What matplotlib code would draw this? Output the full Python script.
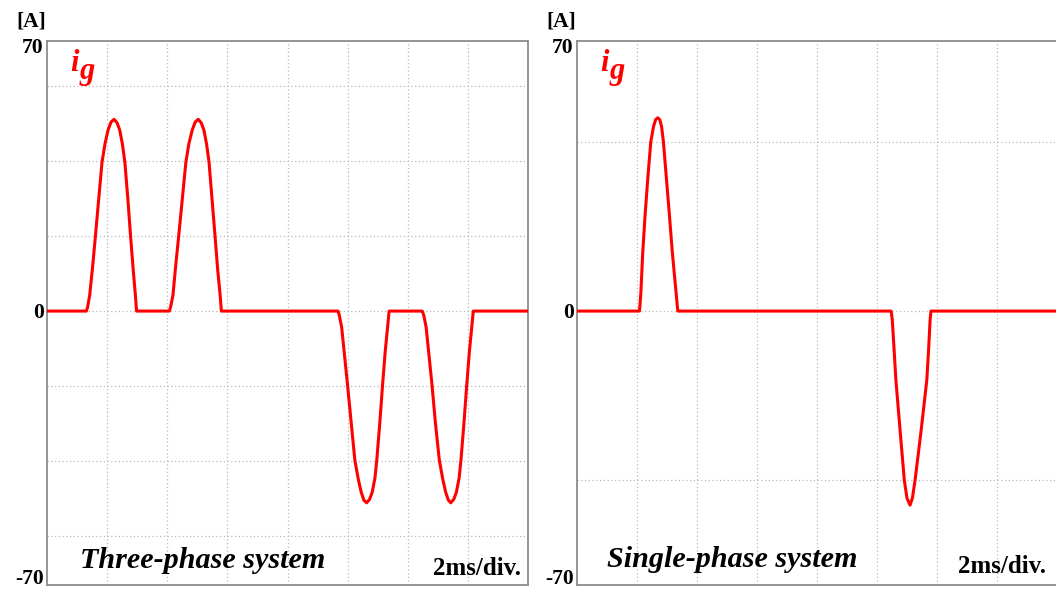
import numpy as np
import matplotlib
matplotlib.use("Agg")
import matplotlib.pyplot as plt

# ---- data (time in ms, current in A) ----
t_three = [0.0,
           1.31, 1.35, 1.42, 1.52, 1.61, 1.72, 1.83, 1.93, 2.03, 2.13, 2.23,
           2.33, 2.42, 2.51, 2.59, 2.69, 2.78, 2.87, 2.94, 2.98,
           4.07, 4.11, 4.19, 4.28, 4.38, 4.50, 4.62, 4.72, 4.83, 4.93, 5.03,
           5.13, 5.22, 5.31, 5.39, 5.49, 5.59, 5.68, 5.76, 5.80,
           9.68, 9.72, 9.80, 9.90, 10.00, 10.12, 10.24, 10.35, 10.45, 10.54, 10.63,
           10.73, 10.82, 10.91, 10.97, 11.07, 11.16, 11.25, 11.33, 11.38,
           12.48, 12.53, 12.61, 12.71, 12.81, 12.92, 13.05, 13.16, 13.26, 13.35, 13.43,
           13.53, 13.62, 13.71, 13.77, 13.87, 13.96, 14.05, 14.13, 14.18,
           16.0]
i_three = [0.0,
           0.0, 1.0, 4.1, 11.7, 19.4, 29.0, 38.6, 43.4, 46.9, 49.0, 49.7,
           48.8, 46.9, 43.2, 38.6, 29.0, 19.4, 10.5, 4.1, 0.0,
           0.0, 1.0, 4.1, 11.7, 19.4, 29.0, 38.6, 43.4, 46.9, 49.0, 49.7,
           48.8, 46.9, 43.2, 38.6, 29.0, 19.4, 10.5, 4.1, 0.0,
           0.0, -1.0, -4.1, -11.7, -19.4, -29.0, -38.6, -43.4, -46.9, -49.0, -49.7,
           -48.8, -46.9, -43.2, -38.6, -29.0, -19.4, -10.5, -4.1, 0.0,
           0.0, -1.0, -4.1, -11.7, -19.4, -29.0, -38.6, -43.4, -46.9, -49.0, -49.7,
           -48.8, -46.9, -43.2, -38.6, -29.0, -19.4, -10.5, -4.1, 0.0,
           0.0]

t_single = [0.0,
            2.08, 2.10, 2.13, 2.19, 2.27, 2.36, 2.46, 2.55, 2.62, 2.69,
            2.76, 2.82, 2.88, 2.98, 3.08, 3.18, 3.30, 3.36,
            10.47, 10.51, 10.57, 10.63, 10.77, 10.91, 11.00, 11.10,
            11.18, 11.27, 11.47, 11.66, 11.72, 11.77, 11.80,
            16.0]
i_single = [0.0,
            0.0, 1.5, 5.0, 15.0, 24.9, 34.4, 43.9, 47.8, 49.6, 50.1,
            49.6, 47.8, 43.9, 34.4, 24.9, 15.0, 5.0, 0.0,
            0.0, -2.3, -10.0, -17.9, -31.0, -43.8, -48.5, -50.3,
            -48.5, -43.8, -31.0, -17.9, -10.0, -2.3, 0.0,
            0.0]

ytick_vals = [70, 0, -70]
ytick_labels = ["70", "0", "-70"]
xgrid = [2, 4, 6, 8, 10, 12, 14]
ygrid_three = [-58.3, -38.9, -19.4, 0, 19.4, 38.9, 58.3]
ygrid_single = [-43.8, 0, 43.8]
titles = ["Three-phase system", "Single-phase system"]

SERIF = "Liberation Serif"
RED = "#ff0000"
label_shift = [-4.8, -1.5, 1.5]   # points, nudges the scale numbers like the scope print

fig = plt.figure(figsize=(10.56, 5.91), dpi=100)
ax1 = fig.add_axes([47 / 1056, 6 / 591, 481 / 1056, 544 / 591])
ax2 = fig.add_axes([577 / 1056, 6 / 591, 480 / 1056, 544 / 591])


def setup_panel(ax, ygrid, title, name_x, unit_x, unit_y, title_y):
    ax.set_xlim(0, 16)
    ax.set_ylim(-71, 70)
    for x in xgrid:
        ax.axvline(x, color="#b8b8b8", lw=0.9, ls=(0, (1, 2)), zorder=0)
    for y in ygrid:
        ax.axhline(y, color="#b8b8b8", lw=0.9, ls=(0, (1, 2)), zorder=0)
    for s in ax.spines.values():
        s.set_color("#8c8c8c")
        s.set_linewidth(1.3)
    ax.set_xticks([])
    ax.set_yticks([])

    for val, lab, dy in zip(ytick_vals, ytick_labels, label_shift):
        ax.annotate(lab, xy=(0, val), xycoords=("axes fraction", "data"),
                    xytext=(-2.5, dy), textcoords="offset points",
                    ha="right", va="center", family=SERIF, fontweight="bold",
                    fontsize=15.5)

    ax.text(-0.002, 1.027, "[A]", transform=ax.transAxes, ha="right", va="baseline",
            family=SERIF, fontweight="bold", fontsize=15.5)
    ax.text(0.048, 0.945, "i", transform=ax.transAxes, ha="left", va="baseline",
            family=SERIF, fontweight="bold", style="italic", fontsize=22, color=RED)
    ax.text(0.068, 0.930, "g", transform=ax.transAxes, ha="left", va="baseline",
            family=SERIF, fontweight="bold", style="italic", fontsize=22, color=RED)
    ax.text(name_x, title_y, title, transform=ax.transAxes, ha="left", va="baseline",
            family=SERIF, fontweight="bold", style="italic", fontsize=21.7)
    ax.text(unit_x, unit_y, "2ms/div.", transform=ax.transAxes, ha="right", va="baseline",
            family=SERIF, fontweight="bold", fontsize=18)


setup_panel(ax1, ygrid_three, titles[0], 0.069, 0.985, 0.018, 0.031)
setup_panel(ax2, ygrid_single, titles[1], 0.0625, 0.977, 0.022, 0.033)

ax1.plot(t_three, i_three, color=RED, lw=2.2, solid_joinstyle="round", zorder=3)
ax2.plot(t_single, i_single, color=RED, lw=2.2, solid_joinstyle="round", zorder=3)

fig.savefig("out.png", dpi=100)
